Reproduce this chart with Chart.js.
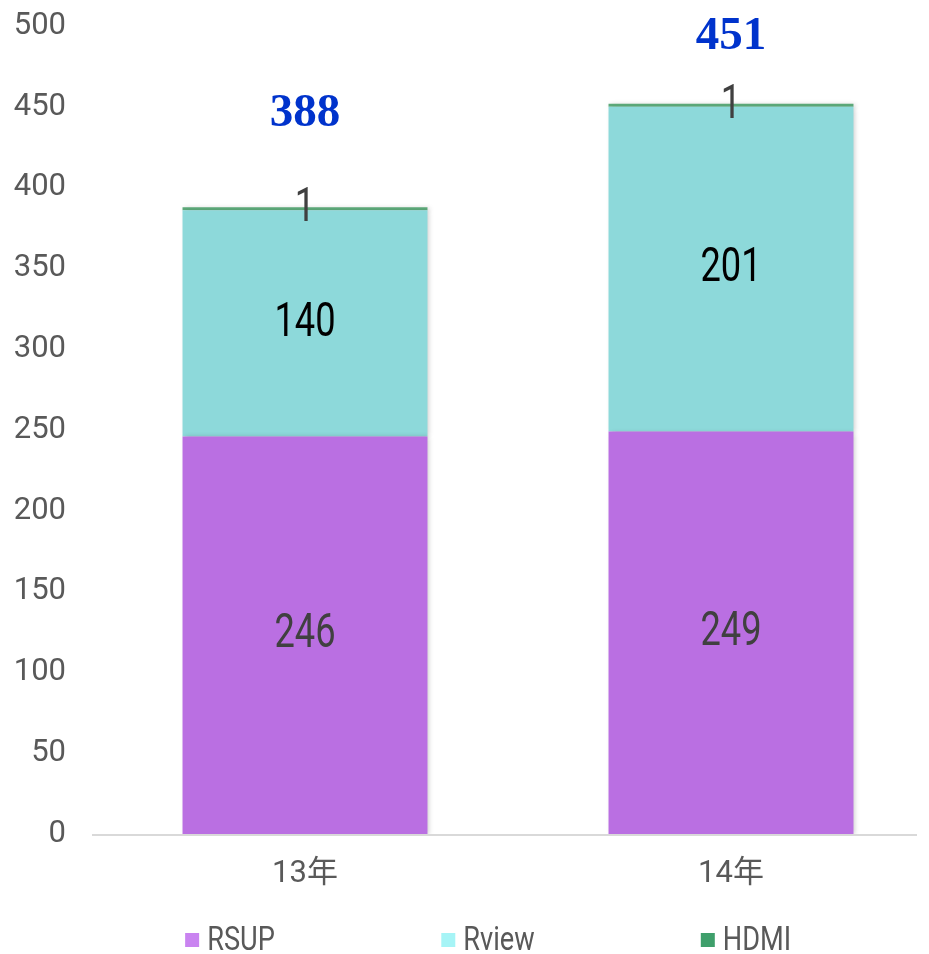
<!DOCTYPE html>
<html>
<head>
<meta charset="utf-8">
<script src="https://cdn.jsdelivr.net/npm/chart.js@4/dist/chart.umd.min.js"></script>
<style>
  html, body { margin: 0; padding: 0; background: #fff; overflow: hidden; }
  #wrap { position: absolute; left: 0; top: 0; width: 960px; height: 954px; }
</style>
</head>
<body>
<div id="wrap"><canvas id="salesChart" width="960" height="954"></canvas></div>
<script>
// Chart data
const categories = ['13年', '14年'];
const rsupValues = [246, 249];
const rviewValues = [140, 201];
const hdmiValues = [1, 1];
const totalValues = [388, 451];
const yTicks = [0, 50, 100, 150, 200, 250, 300, 350, 400, 450, 500];

// Styles
const FONT = "Roboto, 'Noto Sans CJK JP', sans-serif";
const GREY = '#595959';
const labelColors = ['#404040', '#000000', '#404040'];
const totalOffsets = [93, 67]; // px above bar top, as placed in the original

// Draws the value in each segment, the totals, the baseline and the legend
const decorPlugin = {
    id: 'decor',
    beforeDatasetsDraw(chart) {
        const ctx = chart.ctx;
        ctx.save();
        ctx.shadowColor = 'rgba(0,0,0,0.22)';
        ctx.shadowBlur = 5;
        ctx.shadowOffsetX = 2;
        ctx.shadowOffsetY = 1;
    },
    afterDatasetsDraw(chart) {
        const ctx = chart.ctx;
        ctx.restore();
        const area = chart.chartArea;
        const y = chart.scales.y;

        // baseline at 0
        ctx.save();
        ctx.strokeStyle = '#D9D9D9';
        ctx.lineWidth = 2;
        ctx.beginPath();
        ctx.moveTo(area.left, y.getPixelForValue(0) + 1);
        ctx.lineTo(917, y.getPixelForValue(0) + 1);
        ctx.stroke();
        ctx.restore();

        // segment labels
        chart.data.datasets.forEach((ds, di) => {
            const meta = chart.getDatasetMeta(di);
            meta.data.forEach((bar, i) => {
                const cy = (bar.y + bar.base) / 2;
                ctx.save();
                ctx.translate(bar.x, cy);
                ctx.scale(0.74, 1);
                ctx.fillStyle = labelColors[di];
                ctx.font = '49px ' + FONT;
                ctx.textAlign = 'center';
                ctx.textBaseline = 'middle';
                ctx.fillText(String(ds.data[i]), 0, 0);
                ctx.restore();
            });
        });

        // totals
        const lastMeta = chart.getDatasetMeta(chart.data.datasets.length - 1);
        totalValues.forEach((t, i) => {
            const bar = lastMeta.data[i];
            ctx.save();
            ctx.fillStyle = '#0033CC';
            ctx.font = "bold 47px 'Liberation Serif', 'Times New Roman', serif";
            ctx.textAlign = 'center';
            ctx.textBaseline = 'middle';
            ctx.fillText(String(t), bar.x, bar.y - totalOffsets[i]);
            ctx.restore();
        });

        // legend
        ctx.save();
        ctx.font = '34px ' + FONT;
        ctx.textBaseline = 'middle';
        const legendY = 940;
        chart.data.datasets.forEach((ds, i) => {
            const tw = ctx.measureText(ds.label).width * 0.8;
            const w = 14 + 8 + tw;
            const cx = 488 + (i - 1) * 258;
            const x0 = cx - w / 2;
            ctx.fillStyle = ds.legendColor;
            ctx.fillRect(x0, legendY - 7, 14, 14);
            ctx.save();
            ctx.translate(x0 + 22, legendY);
            ctx.scale(0.8, 1);
            ctx.fillStyle = GREY;
            ctx.fillText(ds.label, 0, 1);
            ctx.restore();
        });
        ctx.restore();
    }
};

new Chart(document.getElementById('salesChart'), {
    type: 'bar',
    data: {
        labels: categories,
        datasets: [
            { label: 'RSUP', data: rsupValues, backgroundColor: '#BA6FE2', legendColor: '#C983F0' },
            { label: 'Rview', data: rviewValues, backgroundColor: '#8DD9DA', legendColor: '#A6F4F6' },
            { label: 'HDMI', data: hdmiValues, backgroundColor: '#5DAA7A', legendColor: '#3F9F6B', minBarLength: 3 }
        ]
    },
    options: {
        responsive: false,
        animation: false,
        layout: { padding: { top: 26, bottom: 50, left: 0, right: 16 } },
        datasets: {
            bar: { categoryPercentage: 1, barPercentage: 0.575 }
        },
        plugins: {
            legend: { display: false },
            tooltip: { enabled: false }
        },
        scales: {
            x: {
                stacked: true,
                grid: { display: false, drawTicks: false },
                border: { display: false },
                ticks: { color: GREY, font: { family: FONT, size: 31 }, padding: 22 },
                afterFit: (scale) => { scale.height = 70; scale.paddingLeft = 0; scale.paddingRight = 0; }
            },
            y: {
                stacked: true,
                min: 0,
                max: 500,
                grid: { display: false, drawTicks: false },
                border: { display: false },
                afterBuildTicks: (scale) => { scale.ticks = yTicks.map(v => ({ value: v })); },
                ticks: { color: GREY, font: { family: FONT, size: 31 }, padding: 26 },
                afterFit: (scale) => { scale.width = 92; scale.paddingTop = 0; scale.paddingBottom = 0; }
            }
        }
    },
    plugins: [decorPlugin]
});
</script>
</body>
</html>
